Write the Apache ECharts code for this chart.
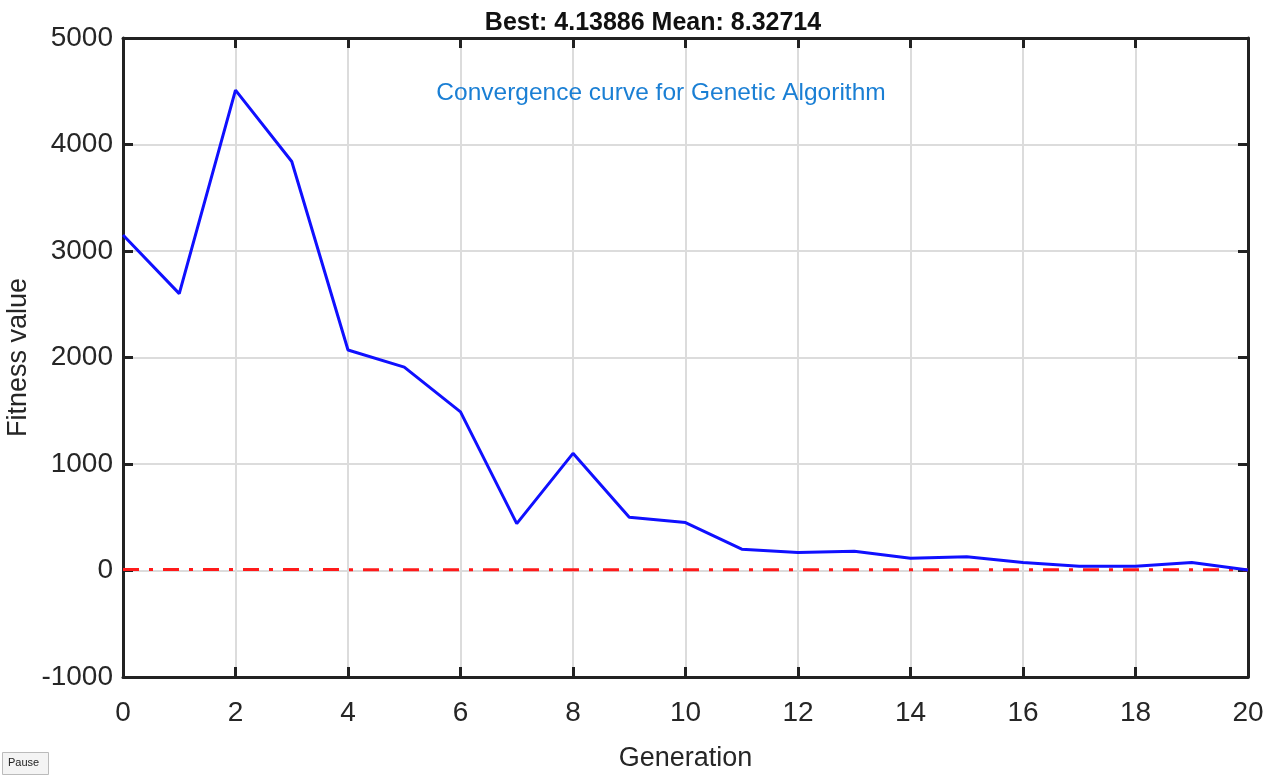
<!DOCTYPE html>
<html>
<head>
<meta charset="utf-8">
<script src="https://cdn.jsdelivr.net/npm/echarts@6/dist/echarts.min.js"></script>
<style>html,body{margin:0;padding:0;background:#fff}#c{width:1276px;height:780px}</style>
</head>
<body>
<div id="c"></div>
<script>
const generations = [0,1,2,3,4,5,6,7,8,9,10,11,12,13,14,15,16,17,18,19,20];
const bestFitness = [3150,2600,4510,3840,2070,1910,1490,440,1100,500,450,200,170,180,115,130,75,40,40,75,5];
const meanLine = [10,10,10,10,8,8,8,8,8,8,8,8,8,8,8,8,8,8,8,8,8];
const xTicks = {min:0, max:20, interval:2};
const yTicks = {min:-1000, max:5000, interval:1000};
const titleText = 'Best: 4.13886 Mean: 8.32714';
const noteText = 'Convergence curve for Genetic Algorithm';

const chart = echarts.init(document.getElementById('c'));
const lblFont = 'Liberation Sans, Arial, sans-serif';
chart.setOption({
  animation:false,
  backgroundColor:'#fff',
  title:[
    {text:titleText,left:648,top:6,textAlign:'center',textStyle:{fontFamily:lblFont,fontWeight:'bold',fontSize:25,color:'#111'}},
    {text:noteText,left:656,top:76,textAlign:'center',textStyle:{fontFamily:lblFont,fontWeight:'normal',fontSize:24.5,color:'#1a7fd4'}}
  ],
  grid:{left:123,right:28,top:38,bottom:103,show:false,containLabel:false,outerBoundsMode:'none'},
  xAxis:[
    {type:'value',min:xTicks.min,max:xTicks.max,interval:xTicks.interval,position:'bottom',
     name:'Generation',nameLocation:'middle',nameGap:68,nameTextStyle:{fontFamily:lblFont,fontSize:27,color:'#262626'},
     axisLine:{onZero:false,lineStyle:{color:'#222',width:3}},
     axisTick:{inside:true,length:10,lineStyle:{color:'#222',width:3}},
     axisLabel:{fontFamily:lblFont,fontSize:28,color:'#262626',margin:22,formatter:v=>String(v)},
     splitLine:{show:true,lineStyle:{color:'#dcdcdc',width:2}}},
    {type:'value',min:xTicks.min,max:xTicks.max,interval:xTicks.interval,position:'top',
     axisLine:{onZero:false,lineStyle:{color:'#222',width:3}},
     axisTick:{inside:true,length:10,lineStyle:{color:'#222',width:3}},
     axisLabel:{show:false},splitLine:{show:false}}
  ],
  yAxis:[
    {type:'value',min:yTicks.min,max:yTicks.max,interval:yTicks.interval,position:'left',
     name:'Fitness value',nameLocation:'middle',nameGap:91,nameMoveOverlap:false,nameRotate:90,nameTextStyle:{fontFamily:lblFont,fontSize:27,color:'#262626'},
     axisLine:{onZero:false,lineStyle:{color:'#222',width:3}},
     axisTick:{inside:true,length:10,lineStyle:{color:'#222',width:3}},
     axisLabel:{fontFamily:lblFont,fontSize:28,color:'#262626',margin:10,formatter:v=>String(v)},
     splitLine:{show:true,lineStyle:{color:'#dcdcdc',width:2}}},
    {type:'value',min:yTicks.min,max:yTicks.max,interval:yTicks.interval,position:'right',
     axisLine:{onZero:false,lineStyle:{color:'#222',width:3}},
     axisTick:{inside:true,length:10,lineStyle:{color:'#222',width:3}},
     axisLabel:{show:false},splitLine:{show:false}}
  ],
  series:[
    {type:'line',name:'Mean',data:generations.map((g,i)=>[g,meanLine[i]]),symbol:'none',
     lineStyle:{color:'#ff1a1a',width:3,type:[16,10,4,10]},z:3},
    {type:'line',name:'Best',data:generations.map((g,i)=>[g,bestFitness[i]]),symbol:'none',
     lineStyle:{color:'#1010ff',width:3},z:4}
  ],
  graphic:[
    {type:'rect',left:2,top:752,shape:{width:46,height:22},style:{fill:'#f4f4f4',stroke:'#bbb',lineWidth:1}},
    {type:'text',left:8,top:757,style:{text:'Pause',font:'11px Liberation Sans, Arial, sans-serif',fill:'#222'}}
  ]
});
</script>
</body>
</html>
